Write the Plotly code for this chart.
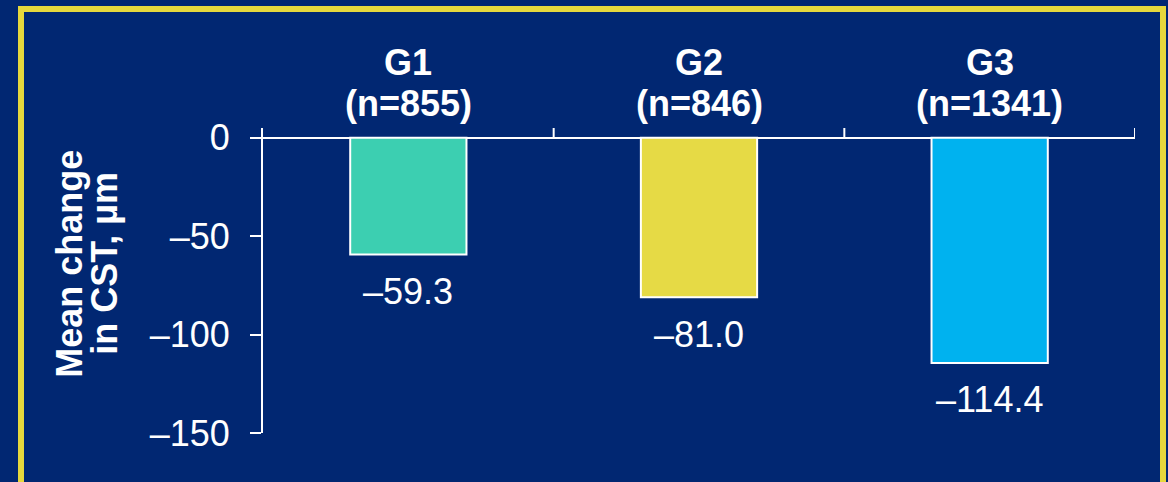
import plotly.graph_objects as go

# Data
groups = ["G1", "G2", "G3"]
group_n = [855, 846, 1341]
mean_change = [-59.3, -81.0, -114.4]
bar_colors = ["#3ccfb1", "#e6da45", "#00b2ef"]
y_tick_vals = [0, -50, -100, -150]
y_tick_text = ["0", "\u201350", "\u2013100", "\u2013150"]
y_title_lines = ["Mean change", "in CST, \u00b5m"]

BG = "#012772"
FONT = "Liberation Sans, Arial, sans-serif"
FS = 36

x_pos = list(range(len(groups)))

fig = go.Figure()
fig.add_trace(go.Bar(
    x=x_pos,
    y=mean_change,
    width=0.4,
    marker=dict(color=bar_colors, line=dict(color="white", width=2)),
    hoverinfo="skip",
))

# value labels below each bar
for i, v in zip(x_pos, mean_change):
    label = ("\u2013" if v < 0 else "") + f"{abs(v):.1f}"
    fig.add_annotation(x=i, y=v, xref="x", yref="y", text=label, showarrow=False,
                       yanchor="middle", yshift=-37,
                       font=dict(family=FONT, size=FS, color="white"))

# group headers above the plot (two lines each)
for i, (g, n) in enumerate(zip(groups, group_n)):
    for txt, shift in ((f"<b>{g}</b>", 66), (f"<b>(n={n})</b>", 25)):
        fig.add_annotation(x=i, y=1, xref="x", yref="paper", text=txt,
                           showarrow=False, yanchor="middle", yshift=shift,
                           font=dict(family=FONT, size=FS, color="white"))

# y-axis title, one rotated annotation per line
for txt, shift in zip(y_title_lines, (-193, -158)):
    fig.add_annotation(x=0, y=-64, xref="paper", yref="y", text=f"<b>{txt}</b>",
                       textangle=-90, showarrow=False, xanchor="center",
                       yanchor="middle", xshift=shift,
                       font=dict(family=FONT, size=FS, color="white"))

# category separator ticks on the zero line
shapes = []
for b in [i + 0.5 for i in x_pos]:
    shapes.append(dict(type="line", xref="x", yref="y", x0=b, x1=b, y0=0, y1=5,
                       line=dict(color="white", width=2)))
# yellow frame
shapes.append(dict(type="rect", xref="paper", yref="paper",
                   x0=(21 - 263) / 872, x1=(1163 - 263) / 872,
                   y0=-0.4, y1=(433 - 9) / 305,
                   line=dict(color="#e6d83c", width=6), fillcolor="rgba(0,0,0,0)",
                   layer="below"))

fig.update_layout(
    width=1168, height=482,
    margin=dict(l=263, r=33, t=128, b=49),
    paper_bgcolor=BG, plot_bgcolor=BG,
    showlegend=False,
    shapes=shapes,
    xaxis=dict(range=[-0.5, 2.5], showticklabels=False, showgrid=False,
               zeroline=False, showline=False, ticks=""),
    yaxis=dict(range=[-150, 5], tickvals=y_tick_vals, ticktext=y_tick_text,
               showgrid=False, zeroline=True, zerolinecolor="white", zerolinewidth=2,
               showline=True, linecolor="white", linewidth=2,
               ticks="outside", ticklen=11, tickwidth=2, tickcolor="white",
               ticklabelstandoff=13,
               tickfont=dict(family=FONT, size=FS, color="white")),
)

fig.write_html("out.html")
